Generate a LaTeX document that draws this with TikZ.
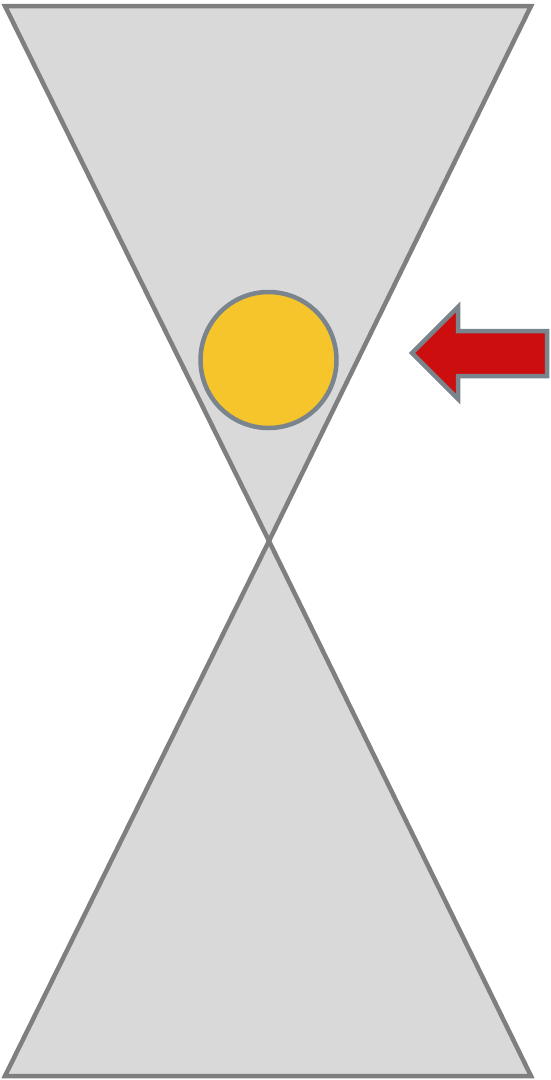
\documentclass[tikz,border=0pt]{standalone}
\usetikzlibrary{shapes.geometric}
\definecolor{conefill}{HTML}{D9D9D9}
\definecolor{conedraw}{HTML}{7F7F7F}
\definecolor{ballfill}{HTML}{F6C42B}
\definecolor{bluegray}{HTML}{7A848D}
\definecolor{arrowred}{HTML}{CC0E0E}
\begin{document}
\begin{tikzpicture}[x=1pt,y=-1pt,
  cone/.style={fill=conefill,draw=conedraw,line width=4.5pt,line join=miter},
  ball/.style={circle,fill=ballfill,draw=bluegray,line width=4.5pt,minimum size=136pt,inner sep=0pt},
  redarrow/.style={fill=arrowred,draw=bluegray,line width=4.5pt,line join=miter}]
\useasboundingbox (0,0) rectangle (550,1080);
\coordinate (apex) at (269,541);
\coordinate (tl) at (5,6);
\coordinate (tr) at (531,6);
\coordinate (bl) at (5,1076);
\coordinate (br) at (531,1076);
\draw[cone] (tl) -- (tr) -- (apex) -- cycle;
\draw[cone] (bl) -- (br) -- (apex) -- cycle;
\node[ball] (sun) at (268.5,360) {};
\draw[redarrow] (412,353) -- (458,307) -- (458,331) -- (547,331) -- (547,376) -- (458,376) -- (458,399) -- cycle;
\end{tikzpicture}
\end{document}
